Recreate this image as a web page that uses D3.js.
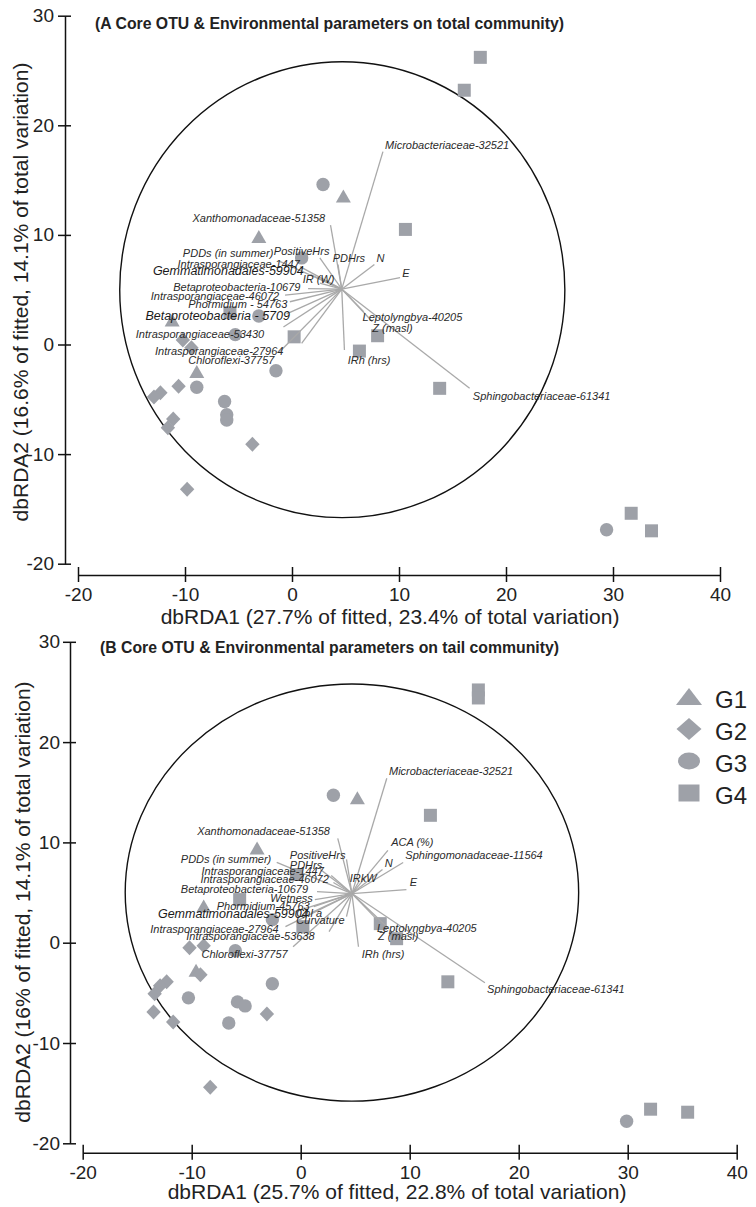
<!DOCTYPE html>
<html>
<head>
<meta charset="utf-8">
<script src="https://cdn.jsdelivr.net/npm/d3@7"></script>
<style>
  body { margin: 0; background: #fff; }
  svg text { font-family: "Liberation Sans", Arial, sans-serif; }
</style>
</head>
<body>
<script>
// ---- data: panel A (total community) ----
const titleA = "(A Core OTU & Environmental parameters on total community)";
const xTitleA = "dbRDA1 (27.7% of fitted, 23.4% of total variation)";
const yTitleA = "dbRDA2 (16.6% of fitted, 14.1% of total variation)";
const a_G1 = [[4.8,13.5],[-3.1,9.8],[-11.2,2.2],[-8.9,-2.5]];
const a_G2 = [[-10.2,0.4],[-9.4,-0.3],[-10.6,-3.8],[-12.3,-4.4],[-12.9,-4.8],[-11.1,-6.8],[-11.6,-7.6],[-3.7,-9.1],[-9.8,-13.2]];
const a_G3 = [[2.9,14.6],[0.9,7.9],[-3.1,2.6],[-5.3,0.9],[-1.5,-2.4],[-8.9,-3.9],[-6.3,-5.2],[-6.1,-6.4],[-6.1,-6.9],[29.4,-16.9]];
const a_G4 = [[17.6,26.2],[16.1,23.2],[10.6,10.5],[-5.8,2.9],[0.2,0.7],[8.0,0.8],[6.3,-0.6],[13.8,-4.0],[31.7,-15.4],[33.6,-17.0]];
const a_origin = [4.65, 5.05];
// [name, vector end x, end y, label left x, label y]
const a_vectors = [
  ["Microbacteriaceae-32521", 8.5, 17.6, 8.7, 18.2],
  ["Xanthomonadaceae-51358", 3.6, 10.9, -9.3, 11.5],
  ["PositiveHrs", 2.6, 7.9, -1.7, 8.5],
  ["PDHrs", 4.3, 7.3, 3.8, 7.9],
  ["N", 7.7, 7.3, 7.9, 7.9],
  ["E", 10.1, 6.1, 10.3, 6.5],
  ["IR (W)", 2.6, 5.6, 1.0, 6.0],
  ["PDDs (in summer)", -1.2, 7.6, -10.2, 8.3],
  ["Intrasporangiaceae-1447", 0.75, 7.1, -10.7, 7.3],
  ["Gemmatimonadales-59904", 1.7, 6.4, -13.0, 6.7],
  ["Betaproteobacteria-10679", 1.5, 5.1, -11.1, 5.2],
  ["Intrasporangiaceae-46072", -0.65, 4.5, -13.2, 4.4],
  ["Phormidium - 54763", -0.2, 3.9, -9.7, 3.7],
  ["Betaproteobacteria - 5709", -0.5, 2.8, -13.7, 2.6],
  ["Intrasporangiaceae-53430", -0.8, 1.6, -14.6, 0.9],
  ["Intrasporangiaceae-27964", 0.9, 0.1, -12.8, -0.6],
  ["Chloroflexi-37757", -1.2, -0.7, -9.7, -1.4],
  ["IRh (hrs)", 4.9, -0.5, 5.2, -1.4],
  ["Leptolyngbya-40205", 6.7, 3.0, 6.6, 2.5],
  ["Z (masl)", 7.5, 2.1, 7.5, 1.5],
  ["Sphingobacteriaceae-61341", 16.6, -4.0, 16.9, -4.7]
];

// ---- data: panel B (tail community) ----
const titleB = "(B Core OTU & Environmental parameters on tail community)";
const xTitleB = "dbRDA1 (25.7% of fitted, 22.8% of total variation)";
const yTitleB = "dbRDA2 (16% of fitted, 14.1% of total variation)";
const b_G1 = [[5.2,14.4],[-4.0,9.4],[-8.9,3.6],[-9.6,-2.8]];
const b_G2 = [[-10.2,-0.5],[-8.9,-0.3],[-9.2,-3.2],[-12.3,-3.9],[-12.9,-4.3],[-13.4,-5.1],[-13.5,-6.9],[-11.7,-7.9],[-3.1,-7.1],[-8.3,-14.4]];
const b_G3 = [[3.0,14.7],[-2.6,2.3],[-6.0,-0.8],[-2.6,-4.1],[-10.3,-5.5],[-5.8,-5.9],[-5.1,-6.3],[-6.6,-8.0],[29.9,-17.8]];
const b_G4 = [[16.3,25.2],[16.3,24.4],[11.9,12.7],[-5.6,4.3],[-0.4,6.8],[0.2,1.6],[7.3,1.9],[8.8,0.4],[13.5,-3.9],[32.1,-16.6],[35.5,-16.9]];
const b_origin = [4.7, 4.9];
const b_vectors = [
  ["Microbacteriaceae-32521", 7.9, 16.4, 8.1, 17.1],
  ["ACA (%)", 8.0, 9.2, 8.3, 10.0],
  ["Sphingomonadaceae-11564", 9.4, 8.0, 9.6, 8.7],
  ["N", 7.5, 7.3, 7.7, 7.9],
  ["E", 9.7, 5.3, 10.0, 6.0],
  ["IRkW", 5.4, 6.2, 4.5, 6.4],
  ["Leptolyngbya-40205", 7.0, 2.3, 7.0, 1.5],
  ["Z (masl)", 8.0, 1.5, 7.1, 0.7],
  ["Sphingobacteriaceae-61341", 16.9, -4.0, 17.1, -4.6],
  ["IRh (hrs)", 5.3, -0.4, 5.6, -1.1],
  ["Xanthomonadaceae-51358", 3.4, 10.4, -9.5, 11.1],
  ["PositiveHrs", 4.2, 8.3, -1.0, 8.7],
  ["PDHrs", 1.8, 7.3, -1.0, 7.7],
  ["PDDs (in summer)", -2.2, 8.0, -11.0, 8.3],
  ["Intrasporangiaceae-1447", 2.8, 6.7, -9.1, 7.1],
  ["Intrasporangiaceae-46072", 3.0, 6.0, -9.2, 6.3],
  ["Betaproteobacteria-10679", 1.5, 5.1, -11.0, 5.3],
  ["Wetness", 1.3, 4.3, -2.8, 4.4],
  ["Phormidium-45763", 1.2, 3.6, -7.7, 3.6],
  ["Gemmatimonadales-59904", -0.5, 3.1, -13.1, 2.9],
  ["Chl a", 1.0, 3.0, -0.4, 2.9],
  ["Curvature", 4.2, 2.6, -0.4, 2.2],
  ["Intrasporangiaceae-27964", -1.4, 1.6, -13.8, 1.4],
  ["Intrasporangiaceae-53638", 2.6, 1.1, -10.5, 0.7],
  ["Chloroflexi-37757", -0.7, -0.4, -9.1, -1.1]
];

const groups = ["G1", "G2", "G3", "G4"];
const xTicks = [-20, -10, 0, 10, 20, 30, 40];
const yTicks = [-20, -10, 0, 10, 20, 30];
const circleCentre = [4.7, 5.0], circleRadius = 20.8;

// ---- drawing ----
const W = 756, H = 1207;
const grey = "#9ea1a8", lineGrey = "#a9a9a9";
const svg = d3.select("body").append("svg").attr("width", W).attr("height", H);
svg.append("rect").attr("width", W).attr("height", H).attr("fill", "#fff");

// marker shapes (G1 triangle, G2 diamond, G3 circle, G4 square)
const shapes = [
  "M0,-7L7.5,6L-7.5,6Z",
  "M0,-7.5L7.2,0L0,7.5L-7.2,0Z",
  "M6.7,0A6.7,6.7 0 1,1 -6.7,0A6.7,6.7 0 1,1 6.7,0Z",
  "M-6.5,-6.5h13v13h-13Z"
];
const legendShapes = [
  "M0,-9L13,8L-13,8Z",
  "M0,-11L12.5,0L0,11L-12.5,0Z",
  "M11,0A11,8.5 0 1,1 -11,0A11,8.5 0 1,1 11,0Z",
  "M-10.5,-8.5h21v17h-21Z"
];
const bigLabels = new Set(["Gemmatimonadales-59904", "Betaproteobacteria - 5709"]);

function drawPanel(p) {
  const x = d3.scaleLinear([-20, 40], p.xRange);
  const y = d3.scaleLinear([-20, 30], p.yRange);
  const g = svg.append("g");

  g.append("ellipse")
    .attr("cx", x(circleCentre[0])).attr("cy", y(circleCentre[1]))
    .attr("rx", x(circleCentre[0] + circleRadius) - x(circleCentre[0]))
    .attr("ry", y(circleCentre[1]) - y(circleCentre[1] + circleRadius))
    .attr("fill", "none").attr("stroke", "#111").attr("stroke-width", 1.4);

  p.points.forEach((pts, i) => {
    g.selectAll(null).data(pts).join("path")
      .attr("d", shapes[i])
      .attr("transform", d => `translate(${x(d[0])},${y(d[1])})`)
      .attr("fill", grey);
  });

  g.selectAll(null).data(p.vectors).join("line")
    .attr("x1", x(p.origin[0])).attr("y1", y(p.origin[1]))
    .attr("x2", d => x(d[1])).attr("y2", d => y(d[2]))
    .attr("stroke", lineGrey).attr("stroke-width", 1.3);

  g.selectAll(null).data(p.vectors).join("text")
    .attr("x", d => x(d[3])).attr("y", d => y(d[4]))
    .attr("dy", "0.35em")
    .attr("font-style", "italic")
    .attr("font-size", d => bigLabels.has(d[0]) ? 12.5 : 11)
    .attr("fill", d => bigLabels.has(d[0]) ? "#1a1a1a" : "#2b2b2b")
    .text(d => d[0]);

  // axes (plain hyphen minus, as in the original)
  const fmt = d => String(d);
  const yAxis = g.append("g").attr("transform", `translate(${p.yAxisX},0)`)
    .call(d3.axisLeft(y).tickValues(yTicks).tickFormat(fmt).tickSizeOuter(0).tickSizeInner(7).tickPadding(p.yPad));
  yAxis.selectAll(".tick line").attr("x1", 6);
  const xAxis = g.append("g").attr("transform", `translate(0,${p.xAxisY})`)
    .call(d3.axisBottom(x).tickValues(xTicks).tickFormat(fmt).tickSizeOuter(0).tickSizeInner(7).tickPadding(6));
  xAxis.selectAll(".tick line").attr("y1", -8);
  [yAxis, xAxis].forEach(a => {
    a.selectAll("path, line").attr("stroke", "#111").attr("stroke-width", 1.5);
    a.selectAll("text").attr("font-size", 19).attr("fill", "#222")
      .attr("font-family", "'Liberation Sans', Arial, sans-serif");
  });

  g.append("text").attr("x", p.titlePos[0]).attr("y", p.titlePos[1])
    .attr("dy", "0.35em").attr("font-weight", "bold").attr("font-size", 15.8).attr("fill", "#222")
    .text(p.title);
  g.append("text").attr("x", p.xTitlePos[0]).attr("y", p.xTitlePos[1])
    .attr("dy", "0.35em").attr("text-anchor", "middle").attr("font-size", 21).attr("fill", "#222")
    .text(p.xTitle);
  g.append("text")
    .attr("transform", `translate(${p.yTitlePos[0]},${p.yTitlePos[1]}) rotate(-90)`)
    .attr("dy", "0.35em").attr("text-anchor", "middle").attr("font-size", 21).attr("fill", "#222")
    .text(p.yTitle);
}

drawPanel({
  xRange: [78, 720], yRange: [563.7, 15.7], yAxisX: 65, xAxisY: 575, yPad: 4,
  points: [a_G1, a_G2, a_G3, a_G4], vectors: a_vectors, origin: a_origin,
  title: titleA, titlePos: [95, 23], xTitle: xTitleA, xTitlePos: [390, 617],
  yTitle: yTitleA, yTitlePos: [21, 292]
});
drawPanel({
  xRange: [82.7, 736.7], yRange: [1143.3, 641.8], yAxisX: 70, xAxisY: 1152.7, yPad: 3,
  points: [b_G1, b_G2, b_G3, b_G4], vectors: b_vectors, origin: b_origin,
  title: titleB, titlePos: [100, 647], xTitle: xTitleB, xTitlePos: [397, 1192],
  yTitle: yTitleB, yTitlePos: [23, 902]
});

// legend
const legend = svg.append("g").attr("transform", "translate(689,697)");
const item = legend.selectAll("g").data(groups).join("g")
  .attr("transform", (d, i) => `translate(0,${i * 32})`);
item.append("path").attr("d", (d, i) => legendShapes[i]).attr("fill", grey);
item.append("text").attr("x", 26).attr("y", 3).attr("dy", "0.35em")
  .attr("font-size", 24).attr("fill", "#222").text(d => d);
</script>
</body>
</html>
